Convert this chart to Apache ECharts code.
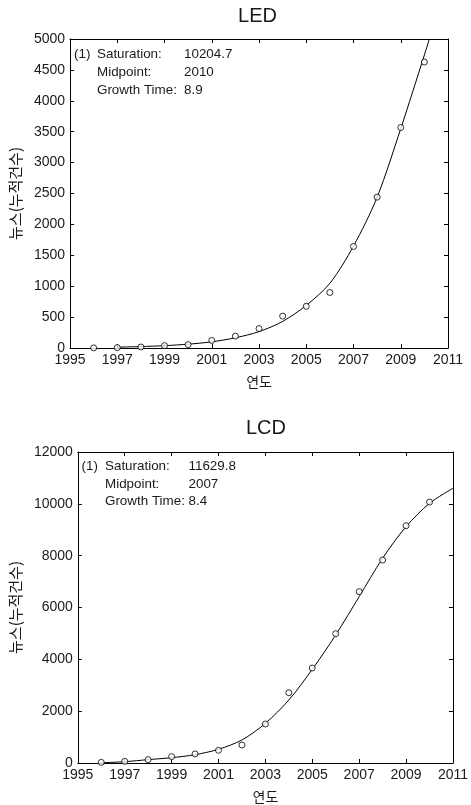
<!DOCTYPE html>
<html>
<head>
<meta charset="utf-8">
<script src="https://cdn.jsdelivr.net/npm/echarts@6/dist/echarts.min.js"></script>
<style>
html,body{margin:0;padding:0;background:#fff;}
#c{width:471px;height:805px;}
</style>
</head>
<body>
<div id="c"></div>
<script>
// ---- data ----
const obsYears = [1996,1997,1998,1999,2000,2001,2002,2003,2004,2005,2006,2007,2008,2009,2010];
const ledObserved = [2,6,16,38,55,122,192,315,516,675,898,1643,2441,3568,4628];
const ledFitYears = [1997,1998,1999,2000,2001,2002,2003,2004,2005,2006,2007,2008,2009,2010,2010.21];
const ledFitValues = [14,23,38,62,100,165,265,430,690,1047,1650,2440,3550,4741,5000];
const lcdObserved = [25,65,130,245,350,490,695,1505,2712,3665,4990,6610,7830,9155,10070];
const lcdFitYears = [1996,1997,1998,1999,2000,2001,2002,2003,2004,2005,2006,2007,2008,2009,2010,2011];
const lcdFitValues = [10,50,130,205,320,530,890,1530,2430,3615,4940,6420,7900,9120,10020,10600];
const xTicks = [1995,1997,1999,2001,2003,2005,2007,2009,2011];
const ledFitText = ['(1)','Saturation:','Midpoint:','Growth Time:','10204.7','2010','8.9'];
const lcdFitText = ['(1)','Saturation:','Midpoint:','Growth Time:','11629.8','2007','8.4'];
const titles = ['LED','LCD'];
const yName = '뉴스(누적건수)';
const xName = '연도';

// ---- chart ----
const FONT = '"Liberation Sans", Arial, sans-serif';
const KFONT = '"Noto Sans CJK KR", "Liberation Sans", sans-serif';
const TXT = '#1a1a1a';
const chart = echarts.init(document.getElementById('c'), null, {renderer:'canvas'});

const grids = [
  {left:68, top:39, width:380, height:309},
  {left:76, top:452, width:381, height:311}
];
const yCfg = [{max:5000, interval:500},{max:12000, interval:2000}];

function pairs(xs, ys){ return xs.map((x,i)=>[x, ys[i]]); }
const plain = v => String(v);

const xAxes = [], yAxes = [];
grids.forEach((g,i)=>{
  xAxes.push({
    gridIndex:i, type:'value', min:1995, max:2011, position:'bottom',
    name:xName, nameLocation:'middle', nameGap:27,
    nameTextStyle:{fontFamily:KFONT, fontSize:14, color:TXT},
    axisLine:{show:true, lineStyle:{color:'#000', width:1}},
    axisTick:{show:true, inside:true, length:4, customValues:xTicks, lineStyle:{color:'#000'}},
    axisLabel:{show:true, customValues:xTicks, formatter:plain, margin:5, fontFamily:FONT, fontSize:14, color:TXT},
    splitLine:{show:false}
  });
  xAxes.push({
    gridIndex:i, type:'value', min:1995, max:2011, position:'top',
    axisLine:{show:true, onZero:false, lineStyle:{color:'#000', width:1}},
    axisTick:{show:true, inside:true, length:4, customValues:xTicks, lineStyle:{color:'#000'}},
    axisLabel:{show:false}, splitLine:{show:false}
  });
  yAxes.push({
    gridIndex:i, type:'value', min:0, max:yCfg[i].max, interval:yCfg[i].interval, position:'left',
    name:yName, nameLocation:'middle', nameGap:46, nameRotate:90,
    nameTextStyle:{fontFamily:KFONT, fontSize:15, color:TXT},
    axisLine:{show:true, lineStyle:{color:'#000', width:1}},
    axisTick:{show:true, inside:true, length:4, lineStyle:{color:'#000'}},
    axisLabel:{show:true, formatter:plain, margin:5, fontFamily:FONT, fontSize:14, color:TXT},
    splitLine:{show:false}
  });
  yAxes.push({
    gridIndex:i, type:'value', min:0, max:yCfg[i].max, interval:yCfg[i].interval, position:'right',
    axisLine:{show:true, onZero:false, lineStyle:{color:'#000', width:1}},
    axisTick:{show:true, inside:true, length:4, lineStyle:{color:'#000'}},
    axisLabel:{show:false}, splitLine:{show:false}
  });
});

const fits = [[ledFitYears, ledFitValues],[lcdFitYears, lcdFitValues]];
const obs = [ledObserved, lcdObserved];
const series = [];
grids.forEach((g,i)=>{
  series.push({
    type:'line', xAxisIndex:i*2, yAxisIndex:i*2, data:pairs(fits[i][0], fits[i][1]),
    showSymbol:false, smooth:0.3, clip:true, silent:true,
    lineStyle:{color:'#000', width:1}, z:2
  });
  series.push({
    type:'scatter', xAxisIndex:i*2, yAxisIndex:i*2, data:pairs(obsYears, obs[i]),
    symbol:'circle', symbolSize:6, silent:true,
    itemStyle:{color:'#fff', borderColor:'#000', borderWidth:1}, z:3
  });
});

function txt(text, x, y, size, align, family){
  return {type:'text', x:x, y:y, silent:true, z:10,
    style:{text:text, fill:TXT, fontFamily:family||FONT, fontSize:size,
      textAlign:align||'left', textVerticalAlign:'middle'}};
}
const graphics = [
  txt(titles[0], 257.5, 16, 20, 'center'),
  txt(titles[1], 266, 428, 20, 'center'),
];
const annPos = [
  {x0:74, x1:97, x2:184, y:[54.3,72,90]},
  {x0:81.5, x1:105, x2:188.5, y:[466.7,484.3,501.5]}
];
const AF = 13.4;
[ledFitText, lcdFitText].forEach((t,i)=>{
  const p = annPos[i];
  graphics.push(txt(t[0], p.x0, p.y[0], AF));
  graphics.push(txt(t[1], p.x1, p.y[0], AF));
  graphics.push(txt(t[2], p.x1, p.y[1], AF));
  graphics.push(txt(t[3], p.x1, p.y[2], AF));
  graphics.push(txt(t[4], p.x2, p.y[0], AF));
  graphics.push(txt(t[5], p.x2, p.y[1], AF));
  graphics.push(txt(t[6], p.x2, p.y[2], AF));
});

chart.setOption({
  animation:false,
  backgroundColor:'#fff',
  grid:grids,
  xAxis:xAxes,
  yAxis:yAxes,
  series:series,
  graphic:graphics
});
</script>
</body>
</html>
